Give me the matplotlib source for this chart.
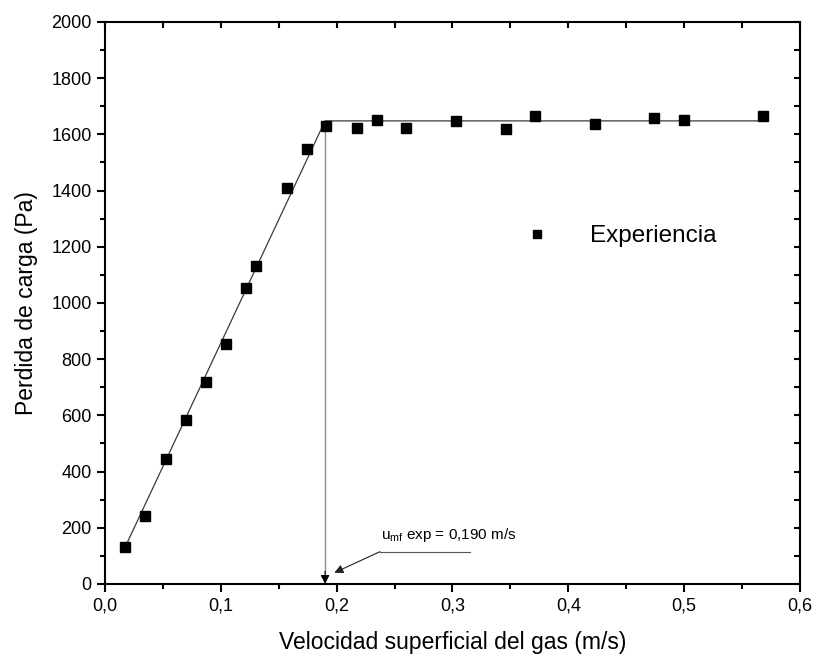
import matplotlib
matplotlib.use("Agg")
import matplotlib.pyplot as plt
from matplotlib.ticker import MultipleLocator, FuncFormatter

plt.rcParams['font.family'] = ['Liberation Sans', 'DejaVu Sans']
plt.rcParams['mathtext.fontset'] = 'custom'
plt.rcParams['mathtext.rm'] = 'Liberation Sans'
plt.rcParams['mathtext.it'] = 'Liberation Sans'

# measured pressure drop vs superficial gas velocity
velocidad = [0.0176, 0.0348, 0.0527, 0.0702, 0.0875, 0.1047, 0.1217, 0.1304,
             0.1571, 0.1741, 0.1905, 0.2173, 0.2346, 0.2601, 0.3031, 0.3462,
             0.3716, 0.4234, 0.4740, 0.5002, 0.5683]
perdida = [133, 243, 445, 582, 720, 855, 1054, 1133,
           1409, 1548, 1629, 1622, 1652, 1624, 1648, 1618,
           1665, 1637, 1660, 1652, 1667]

# fixed-bed line and fluidised plateau
ajuste_x = [0.0176, 0.190, 0.5725]
ajuste_y = [133, 1648, 1648]

u_mf = 0.190

fig = plt.figure(figsize=(8.15, 6.58), dpi=100)
ax = fig.add_axes([0.1288, 0.1125, 0.8528, 0.8541])

ax.plot(ajuste_x, ajuste_y, color='#3a3a3a', lw=0.9, zorder=2)
ax.plot(velocidad, perdida, ls='none', marker='s', ms=7.6, color='black',
        label='Experiencia', zorder=3)

# vertical marker at minimum fluidisation velocity
ax.plot([u_mf, u_mf], [ajuste_y[1], 40], color='#8a8a8a', lw=1.0, zorder=1)
ax.annotate('', xy=(u_mf, 0), xytext=(u_mf, 45),
            arrowprops=dict(arrowstyle='-|>', color='black', lw=0.8,
                            mutation_scale=13, shrinkA=0, shrinkB=0))

# leader line for the label
ax.plot([0.2374, 0.315], [115, 115], color='#555555', lw=0.8)
ax.annotate('', xy=(0.198, 40), xytext=(0.2374, 115),
            arrowprops=dict(arrowstyle='-|>', color='#222222', lw=0.8,
                            mutation_scale=13, shrinkA=0, shrinkB=0))
ax.text(0.238, 160, r'u$_{\mathrm{mf}}$ exp = 0,190 m/s', fontsize=11,
        ha='left', va='baseline')

ax.set_xlim(0, 0.6)
ax.set_ylim(0, 2000)
ax.xaxis.set_major_locator(MultipleLocator(0.1))
ax.xaxis.set_minor_locator(MultipleLocator(0.05))
ax.yaxis.set_major_locator(MultipleLocator(200))
ax.yaxis.set_minor_locator(MultipleLocator(100))
ax.xaxis.set_major_formatter(FuncFormatter(lambda v, p: f'{v:.1f}'.replace('.', ',')))

for s in ax.spines.values():
    s.set_linewidth(1.5)
# outward ticks on the labelled axes, short inward ticks on the opposite ones
ax.tick_params(which='major', direction='out', length=6, width=1.5,
               labelsize=13)
ax.tick_params(which='minor', direction='out', length=3.5, width=1.5)
ax.tick_params(which='both', top=True, right=True)
for t in ax.xaxis.get_major_ticks() + ax.xaxis.get_minor_ticks():
    t.tick2line.set_marker(3)
    t.tick2line.set_markersize(4)
for t in ax.yaxis.get_major_ticks() + ax.yaxis.get_minor_ticks():
    t.tick2line.set_marker(0)
    t.tick2line.set_markersize(4)

ax.set_xlabel('Velocidad superficial del gas (m/s)', fontsize=16.5, labelpad=12)
ax.set_ylabel('Perdida de carga (Pa)', fontsize=16.5, labelpad=10)

ax.legend(loc='center left', bbox_to_anchor=(0.555, 0.619), frameon=False,
          fontsize=17.5, handletextpad=1.2, markerscale=0.85)

fig.savefig('out.png', dpi=100)
